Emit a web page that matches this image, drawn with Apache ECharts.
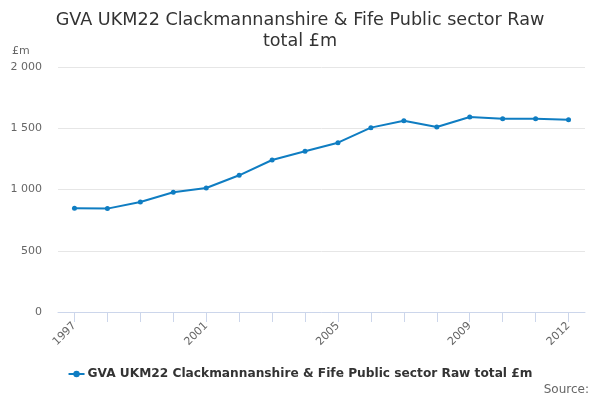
<!DOCTYPE html>
<html><head><meta charset="utf-8">
<script src="https://cdn.jsdelivr.net/npm/echarts@6/dist/echarts.min.js"></script>
<style>html,body{margin:0;padding:0;background:#fff}#c{width:600px;height:400px}</style>
</head><body><div id="c"></div>
<script>
const categories = ['1997','1998','1999','2000','2001','2002','2003','2004','2005','2006','2007','2008','2009','2010','2011','2012'];
const seriesName = 'GVA UKM22 Clackmannanshire & Fife Public sector Raw total £m';
const values = [846, 844, 898, 977, 1012, 1116, 1241, 1312, 1382, 1505, 1562, 1510, 1592, 1578, 1578, 1570];
const yTicks = [0, 500, 1000, 1500, 2000];

const chart = echarts.init(document.getElementById('c'), null, {renderer:'canvas'});
const font = 'DejaVu Sans';
chart.setOption({
  animation: false,
  textStyle: {fontFamily: font},
  title: {
    text: 'GVA UKM22 Clackmannanshire & Fife Public sector Raw\ntotal £m',
    left: 'center', top: 5,
    textStyle: {fontFamily: font, fontSize: 17.6, fontWeight: 'normal', color: '#333', lineHeight: 21}
  },
  graphic: [
    {type:'text', left: 12, top: 46, style:{text:'£m', fontFamily: font, fontSize: 11, fill:'#666'}},
    {type:'text', right: 11, top: 384, style:{text:'Source:', fontFamily: font, fontSize: 12, fill:'#666'}}
  ],
  legend: {
    bottom: 15, left: 'center',
    itemWidth: 16, itemHeight: 8, itemGap: 5,
    textStyle: {fontFamily: font, fontSize: 12.2, fontWeight: 'bold', color: '#333', padding: [0,0,0,-2]},
    data: [seriesName]
  },
  grid: {left: 58, right: 15, top: 67, bottom: 88},
  xAxis: {
    type: 'category', data: categories, boundaryGap: true,
    axisLine: {show: true, lineStyle: {color: '#ccd6eb', width: 1}},
    axisTick: {show: true, alignWithLabel: true, interval: 0, length: 10, lineStyle: {color: '#ccd6eb', width: 1}},
    axisLabel: {
      rotate: 45, color: '#666', fontSize: 11, fontFamily: font, margin: 12,
      interval: function(i){ return i % 4 === 0 || i === categories.length - 1; }
    }
  },
  yAxis: {
    type: 'value', min: 0, max: 2000, interval: 500,
    axisLine: {show: false}, axisTick: {show: false},
    splitLine: {lineStyle: {color: '#e6e6e6'}},
    axisLabel: {color: '#666', fontSize: 11, fontFamily: font, margin: 16,
      formatter: v => v >= 1000 ? Math.floor(v/1000) + ' ' + String(v%1000).padStart(3,'0') : String(v)}
  },
  series: [{
    name: seriesName, type: 'line', data: values,
    color: '#0f7dc2',
    lineStyle: {width: 2, color: '#0f7dc2'},
    symbol: 'circle', symbolSize: 5,
    itemStyle: {color: '#0f7dc2'}
  }]
});
</script></body></html>
